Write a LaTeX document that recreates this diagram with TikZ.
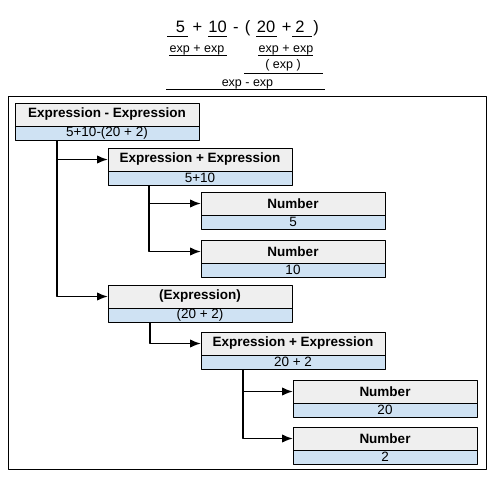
\documentclass[tikz,border=0pt]{standalone}
\usepackage{fontspec}
\setmainfont{Liberation Sans}
\usetikzlibrary{positioning,arrows.meta}
\definecolor{headgray}{HTML}{EFEFEF}
\definecolor{valblue}{HTML}{CFE2F3}
\tikzset{>={Latex[length=11pt,width=8.5pt]}}
\tikzset{
  head/.style = {draw, fill=headgray, anchor=north west, minimum width=184pt, minimum height=23pt,
    inner sep=0pt, outer sep=0pt, font=\fontsize{13.5}{13.5}\selectfont\bfseries},
  val/.style = {draw, fill=valblue, below=0pt of #1, minimum width=184pt, minimum height=14.5pt,
    inner sep=0pt, outer sep=0pt, font=\fontsize{13.5}{13.5}\selectfont},
  conn/.style = {line width=1.8pt, ->},
  big/.style = {anchor=base, inner sep=0pt, font=\fontsize{16.5}{16.5}\selectfont},
  small/.style = {anchor=base, inner sep=0pt, font=\fontsize{12.5}{12.5}\selectfont},
}

\begin{document}
\begin{tikzpicture}[x=1pt, y=-1pt, line join = round]
    \useasboundingbox (0,0) rectangle (495,477);

    % the expression and its parse
    \node[big] (t5) at (180.5,32) {5};
    \node[big] (tplusa) at (197.5,32) {+};
    \node[big] (t10) at (217.5,32) {10};
    \node[big] (tminus) at (235.8,32) {-};
    \node[big] (tlp) at (247.5,32) {(};
    \node[big] (t20) at (266,32) {20};
    \node[big] (tplusb) at (286.7,32) {+};
    \node[big] (t2) at (300,32) {2};
    \node[big] (trp) at (316,32) {)};
    \draw[line width=0.8pt] (167,36) -- (188,36);
    \draw[line width=0.8pt] (208,36) -- (227,36);
    \draw[line width=0.8pt] (256,36) -- (277,36);
    \draw[line width=0.8pt] (292,36) -- (312,36);

    \node[small] (lsum) at (197,52) {exp + exp};
    \node[small] (rsum) at (286,52) {exp + exp};
    \draw[line width=0.8pt] (169,55) -- (227,55);
    \draw[line width=0.8pt] (258,55) -- (313,55);
    \node[small] (paren) at (283,68) {( exp )};
    \draw[line width=0.8pt] (244,73) -- (323,73);
    \node[small] (diff) at (247.5,86) {exp - exp};
    \draw[line width=0.8pt] (166,89) -- (325,89);

    % tree
    \draw[line width=1pt] (8,96) rectangle (486,469);

    \node[head] (ee) at (15,103) {Expression - Expression};
    \node[val=ee] (ee-v) {5+10-(20 + 2)};
    \node[head] (pe) at (108,148) {Expression + Expression};
    \node[val=pe] (pe-v) {5+10};
    \node[head] (num5) at (201,192) {Number};
    \node[val=num5] (num5-v) {5};
    \node[head] (num10) at (201,240) {Number};
    \node[val=num10] (num10-v) {10};
    \node[head] (par) at (108,285) {(Expression)};
    \node[val=par] (par-v) {(20 + 2)};
    \node[head] (pe2) at (201,332) {Expression + Expression};
    \node[val=pe2] (pe2-v) {20 + 2};
    \node[head] (num20) at (293,380) {Number};
    \node[val=num20] (num20-v) {20};
    \node[head] (num2) at (293,427) {Number};
    \node[val=num2] (num2-v) {2};

    \draw[conn] ([xshift=42pt]ee-v.south west) |- (pe.west);
    \draw[conn] ([xshift=42pt]ee-v.south west) |- (par.west);
    \draw[conn] ([xshift=41pt]pe-v.south west) |- (num5.west);
    \draw[conn] ([xshift=41pt]pe-v.south west) |- (num10.west);
    \draw[conn] ([xshift=42pt]par-v.south west) |- (pe2.west);
    \draw[conn] ([xshift=42pt]pe2-v.south west) |- (num20.west);
    \draw[conn] ([xshift=42pt]pe2-v.south west) |- (num2.west);

\end{tikzpicture}
\end{document}
